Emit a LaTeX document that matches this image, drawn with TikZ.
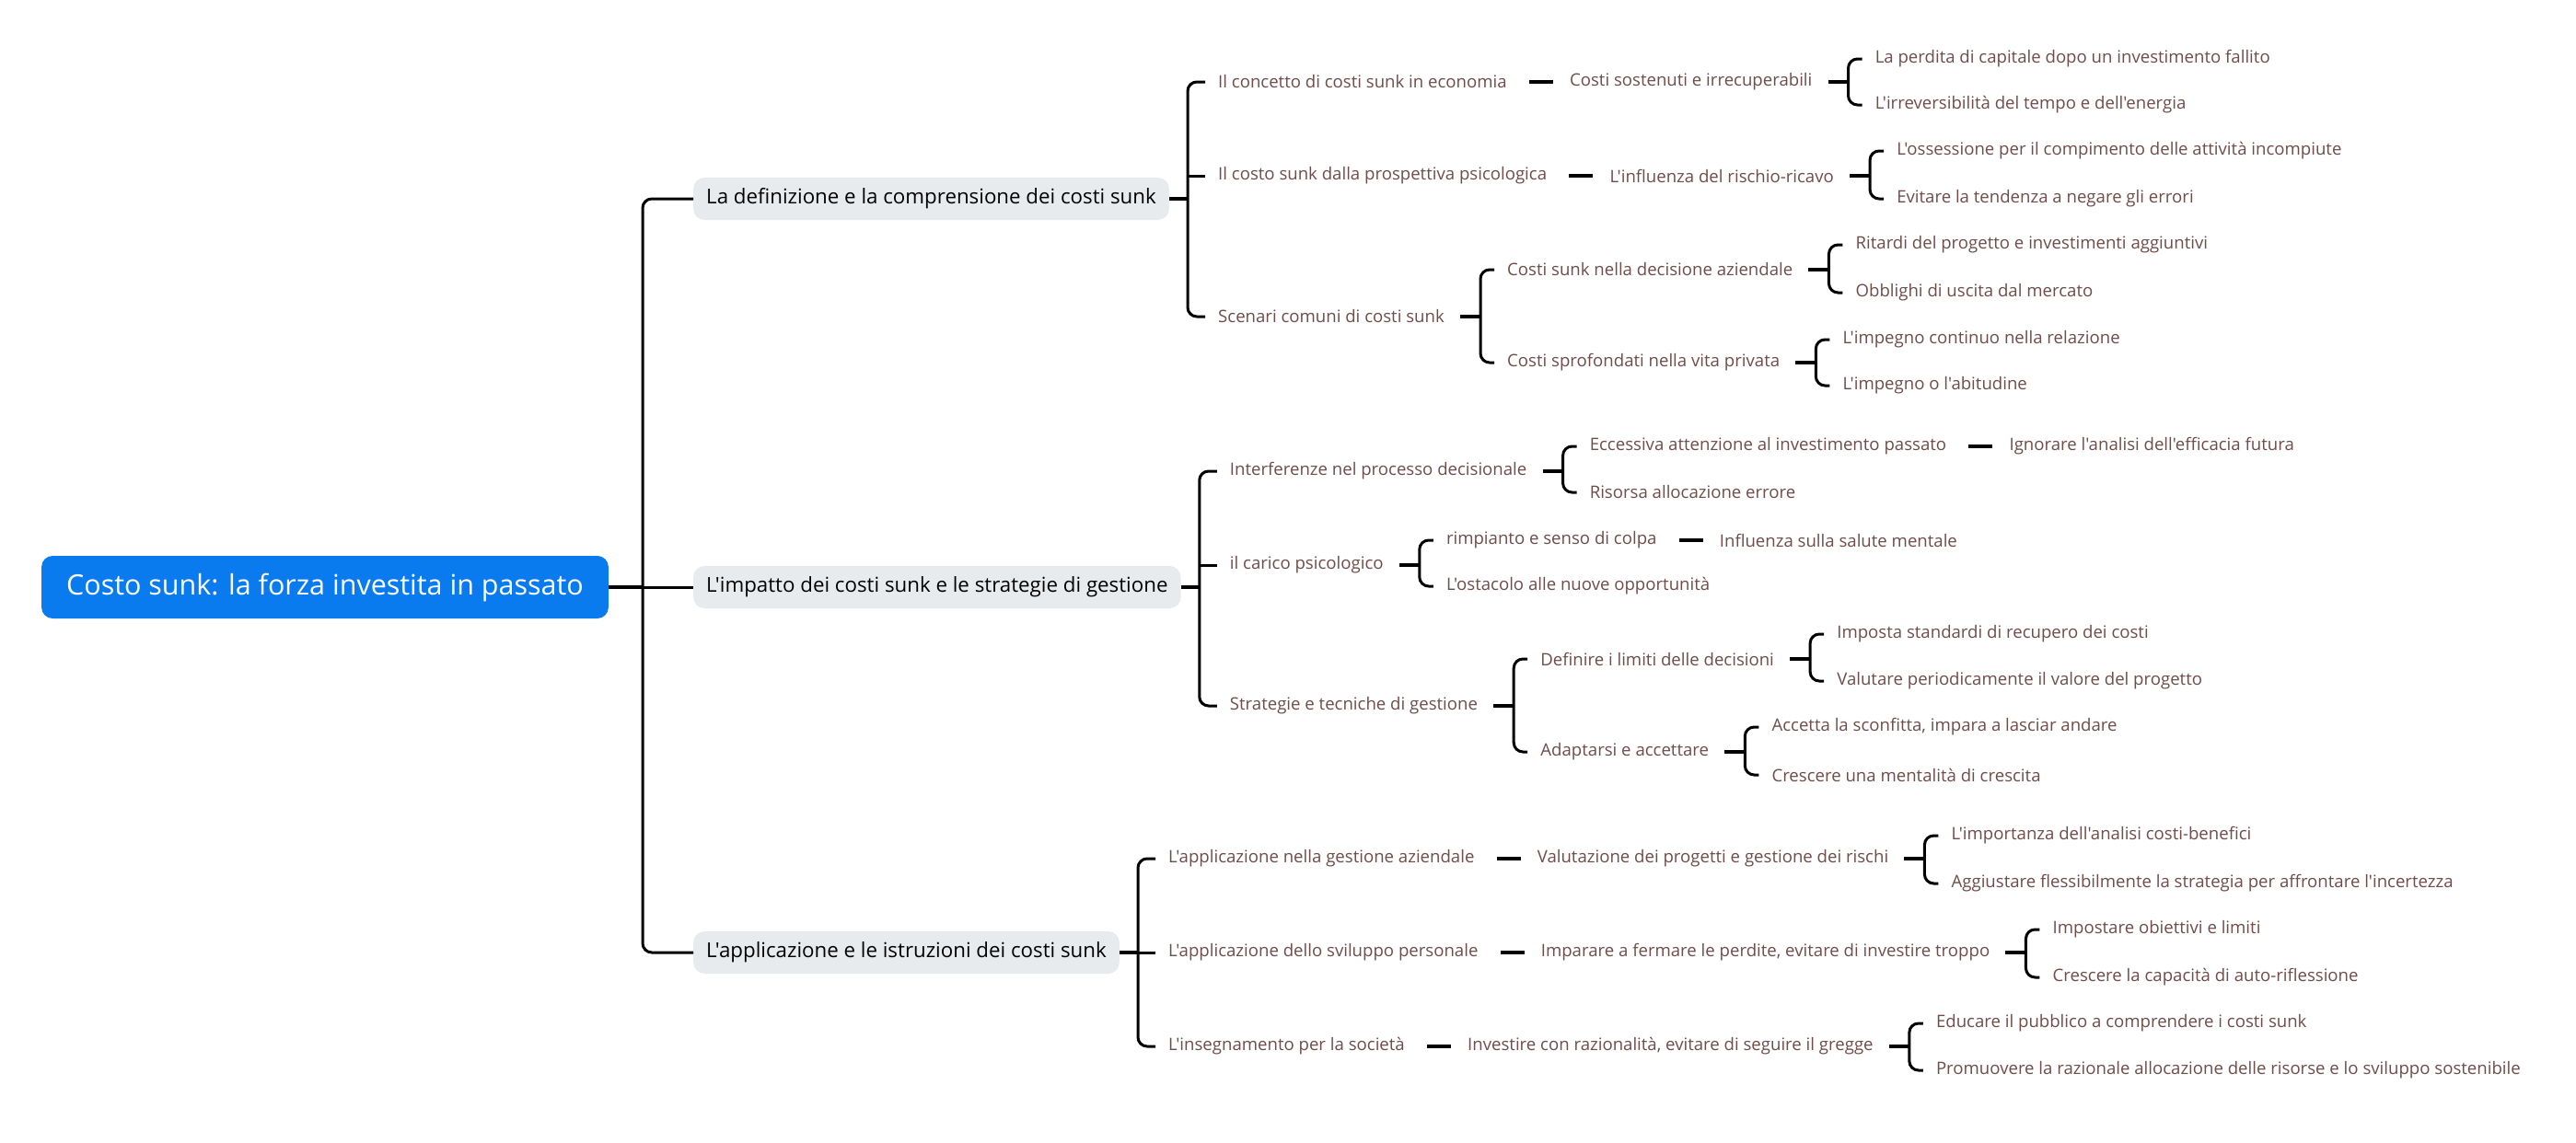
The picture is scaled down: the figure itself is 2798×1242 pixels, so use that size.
\documentclass[tikz,border=0pt]{standalone}
\usepackage{fontspec}
\newfontfamily\mapfont{Open Sans}
\usetikzlibrary{positioning,calc}
\definecolor{rootblue}{RGB}{10,123,239}
\definecolor{topicgray}{RGB}{232,235,238}
\definecolor{leafbrown}{RGB}{110,76,74}
\tikzset{
  rootbox/.style={fill=rootblue, text=white, rounded corners=12pt, inner xsep=27pt, minimum height=68pt, font=\mapfont\fontsize{30.5}{36}\selectfont},
  topicbox/.style={fill=topicgray, text=black, rounded corners=12pt, inner xsep=14pt, minimum height=46pt, anchor=west, font=\mapfont\fontsize{22.3}{27}\selectfont},
  leaf/.style={text=leafbrown, inner xsep=14pt, inner ysep=4pt, anchor=west, font=\mapfont\fontsize{18.6}{22}\selectfont},
  link/.style={line width=3pt, rounded corners=10pt},
  stub/.style={line width=4pt},
}
\begin{document}
\begin{tikzpicture}[x=1pt,y=-1pt]
\useasboundingbox (0,0) rectangle (2798,1242);
% root and main topics
\node[rootbox] (root) at (353,638) {Costo sunk: la forza investita in passato};
\node[topicbox] (def) at (753,216) {La definizione e la comprensione dei costi sunk};
\node[topicbox] (imp) at (753,638) {L'impatto dei costi sunk e le strategie di gestione};
\node[topicbox] (app) at (753,1035) {L'applicazione e le istruzioni dei costi sunk};
\coordinate (main) at (698,638);
\draw[stub] (root.east) -- (main);
\draw[link] (def.west) -| (main |- app.west) -- (app.west);
\draw[link] (main) -- (imp.west);

% definizione
\node[leaf] (conc) at ([xshift=39pt]def.east |- 0,89) {Il concetto di costi sunk in economia};
\node[leaf] (psico) at ([xshift=39pt]def.east |- 0,191) {Il costo sunk dalla prospettiva psicologica};
\node[leaf] (scen) at ([xshift=39pt]def.east |- 0,344) {Scenari comuni di costi sunk};
\coordinate (bdef) at ([xshift=20pt]def.east);
\draw[stub] (def.east) -- (bdef);
\draw[link] (conc.west) -| (bdef |- scen.west) -- (scen.west);
\draw[link] (bdef |- psico.west) -- (psico.west);

\node[leaf] (sost) at ([xshift=40pt]conc.east) {Costi sostenuti e irrecuperabili};
\draw[stub] ([xshift=10pt]conc.east) -- ([xshift=-4pt]sost.west);
\node[leaf] (sost1) at ([xshift=40pt]sost.east |- 0,64) {La perdita di capitale dopo un investimento fallito};
\node[leaf] (sost2) at ([xshift=40pt]sost.east |- 0,114) {L'irreversibilità del tempo e dell'energia};
\coordinate (bsost) at ([xshift=25pt]sost.east);
\draw[stub] ([xshift=3pt]sost.east) -- (bsost);
\draw[link] (sost1.west) -| (bsost |- sost2.west) -- (sost2.west);

\node[leaf] (infl) at ([xshift=40pt]psico.east) {L'influenza del rischio-ricavo};
\draw[stub] ([xshift=10pt]psico.east) -- ([xshift=-4pt]infl.west);
\node[leaf] (infl1) at ([xshift=40pt]infl.east |- 0,164) {L'ossessione per il compimento delle attività incompiute};
\node[leaf] (infl2) at ([xshift=40pt]infl.east |- 0,216) {Evitare la tendenza a negare gli errori};
\coordinate (binfl) at ([xshift=25pt]infl.east);
\draw[stub] ([xshift=3pt]infl.east) -- (binfl);
\draw[link] (infl1.west) -| (binfl |- infl2.west) -- (infl2.west);

\node[leaf] (azi) at ([xshift=40pt]scen.east |- 0,293) {Costi sunk nella decisione aziendale};
\node[leaf] (priv) at ([xshift=40pt]scen.east |- 0,394) {Costi sprofondati nella vita privata};
\coordinate (bscen) at ([xshift=25pt]scen.east);
\draw[stub] ([xshift=3pt]scen.east) -- (bscen);
\draw[link] (azi.west) -| (bscen |- priv.west) -- (priv.west);

\node[leaf] (azi1) at ([xshift=40pt]azi.east |- 0,266) {Ritardi del progetto e investimenti aggiuntivi};
\node[leaf] (azi2) at ([xshift=40pt]azi.east |- 0,318) {Obblighi di uscita dal mercato};
\coordinate (bazi) at ([xshift=25pt]azi.east);
\draw[stub] ([xshift=3pt]azi.east) -- (bazi);
\draw[link] (azi1.west) -| (bazi |- azi2.west) -- (azi2.west);

\node[leaf] (priv1) at ([xshift=40pt]priv.east |- 0,369) {L'impegno continuo nella relazione};
\node[leaf] (priv2) at ([xshift=40pt]priv.east |- 0,419) {L'impegno o l'abitudine};
\coordinate (bpriv) at ([xshift=25pt]priv.east);
\draw[stub] ([xshift=3pt]priv.east) -- (bpriv);
\draw[link] (priv1.west) -| (bpriv |- priv2.west) -- (priv2.west);

% impatto
\node[leaf] (inter) at ([xshift=39pt]imp.east |- 0,512) {Interferenze nel processo decisionale};
\node[leaf] (carico) at ([xshift=39pt]imp.east |- 0,614) {il carico psicologico};
\node[leaf] (strat) at ([xshift=39pt]imp.east |- 0,767) {Strategie e tecniche di gestione};
\coordinate (bimp) at ([xshift=20pt]imp.east);
\draw[stub] (imp.east) -- (bimp);
\draw[link] (inter.west) -| (bimp |- strat.west) -- (strat.west);
\draw[link] (bimp |- carico.west) -- (carico.west);

\node[leaf] (ecc) at ([xshift=40pt]inter.east |- 0,485) {Eccessiva attenzione al investimento passato};
\node[leaf] (ris) at ([xshift=40pt]inter.east |- 0,535) {Risorsa allocazione errore};
\coordinate (binter) at ([xshift=25pt]inter.east);
\draw[stub] ([xshift=3pt]inter.east) -- (binter);
\draw[link] (ecc.west) -| (binter |- ris.west) -- (ris.west);
\node[leaf] (ign) at ([xshift=40pt]ecc.east) {Ignorare l'analisi dell'efficacia futura};
\draw[stub] ([xshift=10pt]ecc.east) -- ([xshift=-4pt]ign.west);

\node[leaf] (rimp) at ([xshift=40pt]carico.east |- 0,587) {rimpianto e senso di colpa};
\node[leaf] (ost) at ([xshift=40pt]carico.east |- 0,637) {L'ostacolo alle nuove opportunità};
\coordinate (bcar) at ([xshift=25pt]carico.east);
\draw[stub] ([xshift=3pt]carico.east) -- (bcar);
\draw[link] (rimp.west) -| (bcar |- ost.west) -- (ost.west);
\node[leaf] (salute) at ([xshift=40pt]rimp.east) {Influenza sulla salute mentale};
\draw[stub] ([xshift=10pt]rimp.east) -- ([xshift=-4pt]salute.west);

\node[leaf] (lim) at ([xshift=40pt]strat.east |- 0,716) {Definire i limiti delle decisioni};
\node[leaf] (adat) at ([xshift=40pt]strat.east |- 0,817) {Adaptarsi e accettare};
\coordinate (bstrat) at ([xshift=25pt]strat.east);
\draw[stub] ([xshift=3pt]strat.east) -- (bstrat);
\draw[link] (lim.west) -| (bstrat |- adat.west) -- (adat.west);

\node[leaf] (lim1) at ([xshift=40pt]lim.east |- 0,689) {Imposta standardi di recupero dei costi};
\node[leaf] (lim2) at ([xshift=40pt]lim.east |- 0,740) {Valutare periodicamente il valore del progetto};
\coordinate (blim) at ([xshift=25pt]lim.east);
\draw[stub] ([xshift=3pt]lim.east) -- (blim);
\draw[link] (lim1.west) -| (blim |- lim2.west) -- (lim2.west);

\node[leaf] (adat1) at ([xshift=40pt]adat.east |- 0,790) {Accetta la sconfitta, impara a lasciar andare};
\node[leaf] (adat2) at ([xshift=40pt]adat.east |- 0,842) {Crescere una mentalità di crescita};
\coordinate (badat) at ([xshift=25pt]adat.east);
\draw[stub] ([xshift=3pt]adat.east) -- (badat);
\draw[link] (adat1.west) -| (badat |- adat2.west) -- (adat2.west);

% applicazione
\node[leaf] (gest) at ([xshift=39pt]app.east |- 0,933) {L'applicazione nella gestione aziendale};
\node[leaf] (svil) at ([xshift=39pt]app.east |- 0,1035) {L'applicazione dello sviluppo personale};
\node[leaf] (soc) at ([xshift=39pt]app.east |- 0,1137) {L'insegnamento per la società};
\coordinate (bapp) at ([xshift=20pt]app.east);
\draw[stub] (app.east) -- (bapp);
\draw[link] (gest.west) -| (bapp |- soc.west) -- (soc.west);
\draw[link] (bapp |- svil.west) -- (svil.west);

\node[leaf] (valu) at ([xshift=40pt]gest.east) {Valutazione dei progetti e gestione dei rischi};
\draw[stub] ([xshift=10pt]gest.east) -- ([xshift=-4pt]valu.west);
\node[leaf] (valu1) at ([xshift=40pt]valu.east |- 0,908) {L'importanza dell'analisi costi-benefici};
\node[leaf] (valu2) at ([xshift=40pt]valu.east |- 0,960) {Aggiustare flessibilmente la strategia per affrontare l'incertezza};
\coordinate (bvalu) at ([xshift=25pt]valu.east);
\draw[stub] ([xshift=3pt]valu.east) -- (bvalu);
\draw[link] (valu1.west) -| (bvalu |- valu2.west) -- (valu2.west);

\node[leaf] (ferm) at ([xshift=40pt]svil.east) {Imparare a fermare le perdite, evitare di investire troppo};
\draw[stub] ([xshift=10pt]svil.east) -- ([xshift=-4pt]ferm.west);
\node[leaf] (ferm1) at ([xshift=40pt]ferm.east |- 0,1010) {Impostare obiettivi e limiti};
\node[leaf] (ferm2) at ([xshift=40pt]ferm.east |- 0,1062) {Crescere la capacità di auto-riflessione};
\coordinate (bferm) at ([xshift=25pt]ferm.east);
\draw[stub] ([xshift=3pt]ferm.east) -- (bferm);
\draw[link] (ferm1.west) -| (bferm |- ferm2.west) -- (ferm2.west);

\node[leaf] (raz) at ([xshift=40pt]soc.east) {Investire con razionalità, evitare di seguire il gregge};
\draw[stub] ([xshift=10pt]soc.east) -- ([xshift=-4pt]raz.west);
\node[leaf] (raz1) at ([xshift=40pt]raz.east |- 0,1112) {Educare il pubblico a comprendere i costi sunk};
\node[leaf] (raz2) at ([xshift=40pt]raz.east |- 0,1163) {Promuovere la razionale allocazione delle risorse e lo sviluppo sostenibile};
\coordinate (braz) at ([xshift=25pt]raz.east);
\draw[stub] ([xshift=3pt]raz.east) -- (braz);
\draw[link] (raz1.west) -| (braz |- raz2.west) -- (raz2.west);
\end{tikzpicture}
\end{document}
